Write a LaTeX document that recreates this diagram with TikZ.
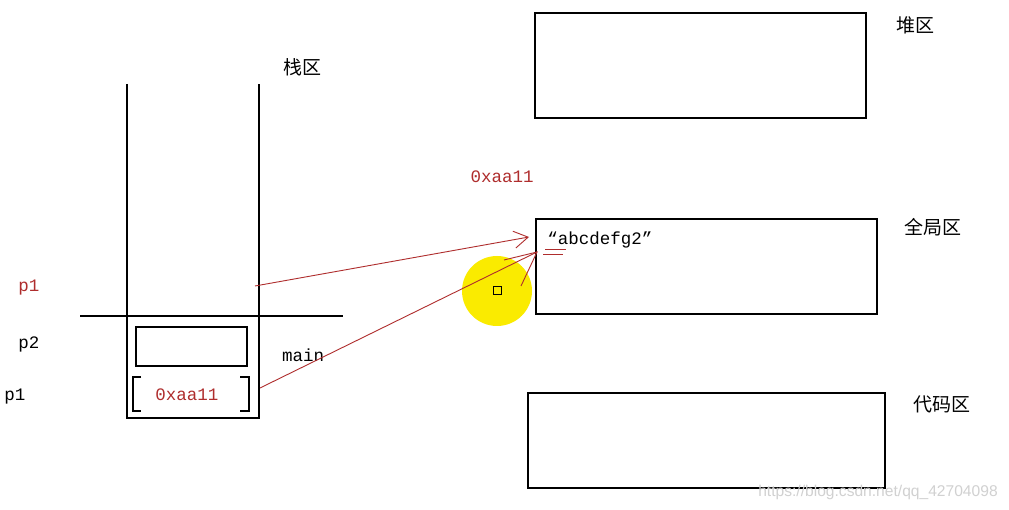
\documentclass[tikz,border=0pt]{standalone}
\usepackage{fontspec}
\setmonofont{Liberation Mono}
\newfontfamily\cjk{Noto Sans CJK SC}
\usetikzlibrary{arrows.meta}
\definecolor{pred}{RGB}{175,45,45}
\definecolor{hl}{RGB}{250,235,0}
\tikzset{
  box/.style={draw=black, line width=1.3pt},
  lab/.style={inner sep=0pt, font=\ttfamily\fontsize{17.5}{17.5}\selectfont},
  cjklab/.style={inner sep=0pt, font=\cjk\fontsize{19}{19}\selectfont},
  ptr/.style={draw=pred, line width=0.9pt},
}
\begin{document}
\begin{tikzpicture}[x=1pt,y=-1pt]
\useasboundingbox (0,0) rectangle (1009,510);
\fill[white] (0,0) rectangle (1009,510);
% highlight
\fill[hl] (497,291) circle (35);
\node[draw=black, line width=1pt, minimum size=8pt, inner sep=0pt] (cursor) at (497,291) {};
% stack
\draw[box] (127,84) -- (127,418) -- (259,418) -- (259,84);
\draw[box] (80,316) -- (343,316);
\node[box, minimum width=111pt, minimum height=39pt, inner sep=0pt] (p2box) at (191.5,346.5) {};
\draw[box] (141,377) -- (133,377) -- (133,411) -- (141,411);
\draw[box] (240,377) -- (249,377) -- (249,411) -- (240,411);
\node[lab, text=pred] (val) at (187,395) {0xaa11};
\node[lab, text=pred] (p1top) at (29,288) {p1};
\node[lab] (p2) at (29,344) {p2};
\node[lab] (p1) at (15,397) {p1};
\node[lab] (main) at (303,355) {main};
\node[cjklab] (stack) at (302,67) {栈区};
% heap
\node[box, minimum width=331pt, minimum height=105pt, inner sep=0pt] (heap) at (700.5,65.5) {};
\node[cjklab] (heapl) at (915,25) {堆区};
% global
\node[box, minimum width=341pt, minimum height=95pt, inner sep=0pt] (global) at (706.5,266.5) {};
\node[cjklab] (globall) at (933,227) {全局区};
\node[lab] (str) at (600,240) {“abcdefg2”};
% code
\node[box, minimum width=357pt, minimum height=95pt, inner sep=0pt] (code) at (706.5,440.5) {};
\node[cjklab] (codel) at (942,404) {代码区};
% address label
\node[lab, text=pred] (addr) at (502,177) {0xaa11};
% pointers
\coordinate (a1) at (255,286);
\coordinate (a2) at (529,237);
\coordinate (b1) at (260,388);
\coordinate (b2) at (537,252);
\coordinate (c1) at (504,260);
\coordinate (c2) at (521,286);
\draw[ptr, -{Straight Barb[length=14pt,width=17pt]}] (a1) -- (a2);
\draw[ptr] (b1) -- (b2);
\draw[ptr] (c1) -- (b2) -- (c2);
\coordinate (u1) at (545,249); \coordinate (u2) at (566,249);
\coordinate (u3) at (543,254); \coordinate (u4) at (563,254);
\draw[ptr] (u1) -- (u2);
\draw[ptr] (u3) -- (u4);
% watermark
\node[inner sep=0pt, text=black!18, font=\fontspec{Liberation Sans}\fontsize{15.6}{15.6}\selectfont] (wm) at (878,492) {https://blog.csdn.net/qq\_42704098};
\end{tikzpicture}
\end{document}
